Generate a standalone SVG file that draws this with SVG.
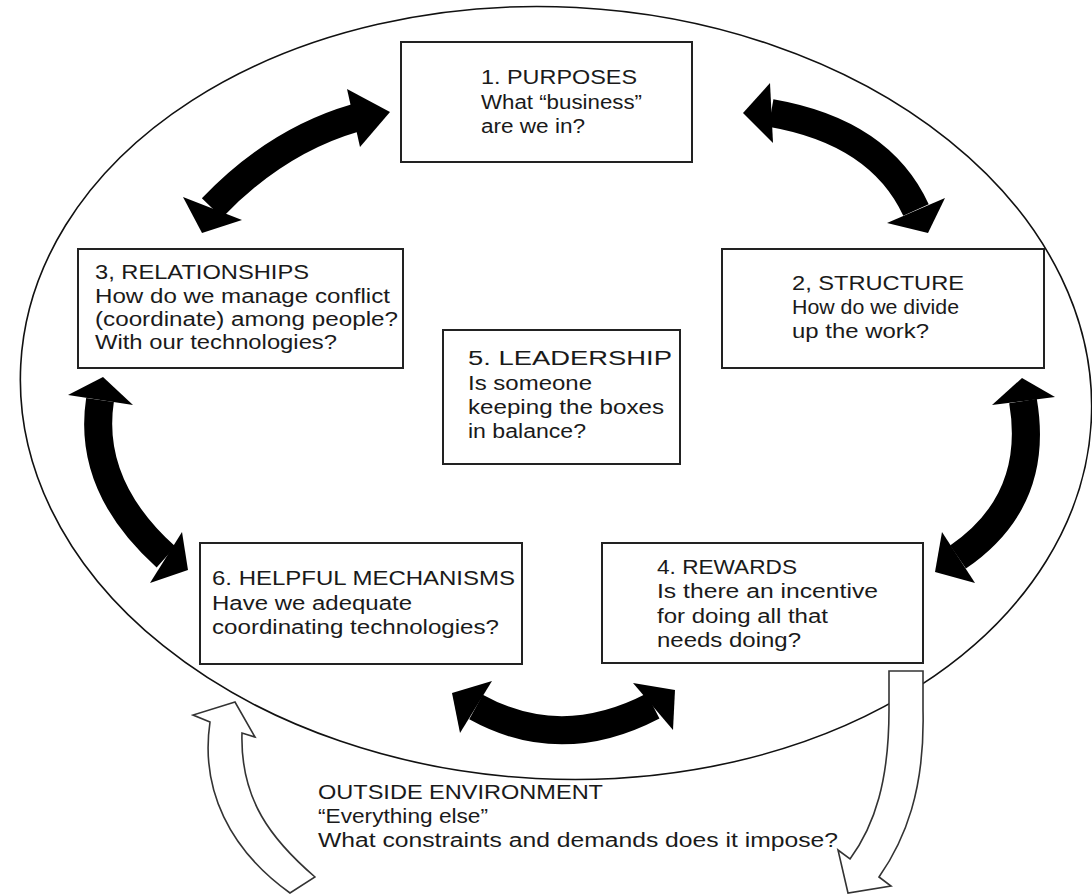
<svg xmlns="http://www.w3.org/2000/svg" width="1092" height="895" viewBox="0 0 1092 895">
<style>
.box{fill:#fff;stroke:#222;stroke-width:2}
.t{font-family:"Liberation Sans",Arial,sans-serif;font-size:19.5px;fill:#1a1a1a}
.shaft{fill:none;stroke:#000;stroke-width:28}
.head{fill:#000}
.hollow{fill:#fff;stroke:#333;stroke-width:1.6;stroke-linejoin:miter}
</style>
<rect width="1092" height="895" fill="#fff"/>
<g id="environment">
<ellipse cx="556" cy="393" rx="536" ry="386" transform="rotate(3 556 393)" fill="none" stroke="#111" stroke-width="1.6"/>
</g>
<g id="n1"><rect class="box" x="401" y="42" width="291" height="120"/>
<text class="t" x="481" y="84" textLength="156" lengthAdjust="spacingAndGlyphs">1. PURPOSES</text>
<text class="t" x="481" y="109" textLength="161" lengthAdjust="spacingAndGlyphs">What “business”</text>
<text class="t" x="481" y="133" textLength="104" lengthAdjust="spacingAndGlyphs">are we in?</text></g>
<g id="n2"><rect class="box" x="722" y="249" width="322" height="119"/>
<text class="t" x="792" y="290" textLength="172" lengthAdjust="spacingAndGlyphs">2, STRUCTURE</text>
<text class="t" x="792" y="314" textLength="167" lengthAdjust="spacingAndGlyphs">How do we divide</text>
<text class="t" x="792" y="338" textLength="137" lengthAdjust="spacingAndGlyphs">up the work?</text></g>
<g id="n3"><rect class="box" x="78" y="249" width="325" height="119"/>
<text class="t" x="95" y="279" textLength="214" lengthAdjust="spacingAndGlyphs">3, RELATIONSHIPS</text>
<text class="t" x="95" y="303" textLength="295" lengthAdjust="spacingAndGlyphs">How do we manage conflict</text>
<text class="t" x="95" y="326" textLength="303" lengthAdjust="spacingAndGlyphs">(coordinate) among people?</text>
<text class="t" x="95" y="349" textLength="242" lengthAdjust="spacingAndGlyphs">With our technologies?</text></g>
<g id="n5"><rect class="box" x="443" y="330" width="237" height="134"/>
<text class="t" x="468" y="365" textLength="204" lengthAdjust="spacingAndGlyphs">5. LEADERSHIP</text>
<text class="t" x="468" y="390" textLength="124" lengthAdjust="spacingAndGlyphs">Is someone</text>
<text class="t" x="468" y="414" textLength="196" lengthAdjust="spacingAndGlyphs">keeping the boxes</text>
<text class="t" x="468" y="438" textLength="118" lengthAdjust="spacingAndGlyphs">in balance?</text></g>
<g id="n6"><rect class="box" x="200" y="543" width="322" height="121"/>
<text class="t" x="212" y="585" textLength="303" lengthAdjust="spacingAndGlyphs">6. HELPFUL MECHANISMS</text>
<text class="t" x="212" y="610" textLength="200" lengthAdjust="spacingAndGlyphs">Have we adequate</text>
<text class="t" x="212" y="634" textLength="287" lengthAdjust="spacingAndGlyphs">coordinating technologies?</text></g>
<g id="n4"><rect class="box" x="602" y="543" width="321" height="120"/>
<text class="t" x="657" y="574" textLength="140" lengthAdjust="spacingAndGlyphs">4. REWARDS</text>
<text class="t" x="657" y="598" textLength="221" lengthAdjust="spacingAndGlyphs">Is there an incentive</text>
<text class="t" x="657" y="623" textLength="171" lengthAdjust="spacingAndGlyphs">for doing all that</text>
<text class="t" x="657" y="647" textLength="144" lengthAdjust="spacingAndGlyphs">needs doing?</text></g>
<g id="connectors">
<path class="shaft" d="M212,208 Q276,141 355,118"/>
<polygon class="head" points="183,197 202,233 242,220"/>
<polygon class="head" points="347,89 390,112 360,147"/>
<path class="shaft" d="M771,113 Q880,132 916,210"/>
<polygon class="head" points="770,83 743,113 773,143"/>
<polygon class="head" points="887,223 928,233 945,198"/>
<path class="shaft" d="M100,400 Q87,486 166,557"/>
<polygon class="head" points="68,395 103,377 133,405"/>
<polygon class="head" points="182,532 188,570 150,583"/>
<path class="shaft" d="M1023,401 Q1040,501 958,557"/>
<polygon class="head" points="992,405 1022,378 1055,397"/>
<polygon class="head" points="942,532 935,572 975,583"/>
<path class="shaft" d="M476,707 Q561,754 653,706"/>
<polygon class="head" points="492,681 452,693 460,733"/>
<polygon class="head" points="633,683 675,690 673,730"/>
<path class="hollow" d="M235,702 L193,715 L210,722 C200,790 230,850 290,893 L315,877 C272,840 240,800 242,733 L255,737 Z"/>
<path class="hollow" d="M889,671 L889,710 C889,780 875,825 850,859 L838,850 L848,893 L891,886 L879,877 C905,840 925,790 923,710 L923,671 Z"/>
</g>
<g id="outside">
<text class="t" x="318" y="799" textLength="285" lengthAdjust="spacingAndGlyphs">OUTSIDE ENVIRONMENT</text>
<text class="t" x="318" y="823" textLength="170" lengthAdjust="spacingAndGlyphs">“Everything else”</text>
<text class="t" x="318" y="847" textLength="520" lengthAdjust="spacingAndGlyphs">What constraints and demands does it impose?</text>
</g>
</svg>
